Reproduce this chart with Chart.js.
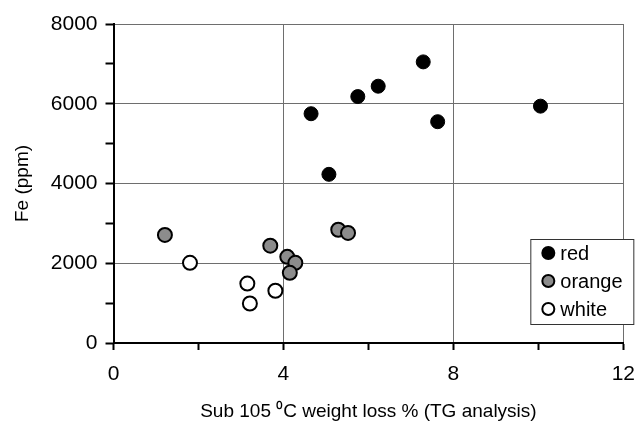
<!DOCTYPE html>
<html>
<head>
<meta charset="utf-8">
<script src="https://cdn.jsdelivr.net/npm/chart.js@4/dist/chart.umd.min.js"></script>
<style>
  html, body { margin: 0; background: #fff; overflow: hidden; }
  #wrap { width: 647px; height: 423px; }
</style>
</head>
<body>
<div id="wrap"><canvas id="feChart"></canvas></div>
<script>
// Sub-105 °C weight loss (%) vs Fe (ppm), grouped by sample colour
const redLoss = [4.65, 5.07, 5.75, 6.23, 7.29, 7.63, 10.05];
const redFe = [5750, 4230, 6180, 6440, 7050, 5550, 5940];

const orangeLoss = [1.21, 3.69, 4.09, 4.28, 4.15, 5.29, 5.52];
const orangeFe = [2710, 2440, 2160, 2010, 1760, 2840, 2760];

const whiteLoss = [1.80, 3.15, 3.21, 3.81];
const whiteFe = [2010, 1490, 990, 1310];

const groupNames = ['red', 'orange', 'white'];
const xMajorTicks = [0, 4, 8, 12];
const yMajorTicks = [0, 2000, 4000, 6000, 8000];

const FONT = "'Liberation Sans', Arial, sans-serif";

function toPoints(xs, ys) {
  return xs.map((x, i) => ({ x: x, y: ys[i] }));
}

const fills = ['#000000', '#8c8c8c', '#ffffff'];
const series = [toPoints(redLoss, redFe), toPoints(orangeLoss, orangeFe), toPoints(whiteLoss, whiteFe)];

const datasets = groupNames.map((name, i) => ({
  label: name,
  data: series[i],
  backgroundColor: fills[i],
  borderColor: '#000',
  borderWidth: i === 0 ? 1 : 2,
  pointRadius: 7,
  pointHoverRadius: 7
}));

// boxed legend drawn inside the lower right of the plot
const boxLegend = {
  id: 'boxLegend',
  afterDraw(chart) {
    const { ctx, chartArea } = chart;
    const left = chartArea.right - 93;
    const top = chartArea.bottom - 104;
    const w = 104, h = 86;
    ctx.save();
    ctx.fillStyle = '#fff';
    ctx.fillRect(left, top, w, h);
    ctx.strokeStyle = '#333';
    ctx.lineWidth = 1;
    ctx.strokeRect(left + 0.5, top + 0.5, w - 1, h - 1);
    ctx.font = '20px ' + FONT;
    ctx.textBaseline = 'middle';
    chart.data.datasets.forEach((ds, i) => {
      const cy = top + 14 + i * 28;
      ctx.beginPath();
      ctx.arc(left + 18, cy, 6, 0, Math.PI * 2);
      ctx.fillStyle = ds.backgroundColor;
      ctx.fill();
      ctx.lineWidth = 2;
      ctx.strokeStyle = '#000';
      ctx.stroke();
      ctx.fillStyle = '#000';
      ctx.fillText(ds.label, left + 30, cy + 1);
    });
    ctx.restore();
  }
};

new Chart(document.getElementById('feChart'), {
  type: 'scatter',
  data: { datasets: datasets },
  plugins: [boxLegend],
  options: {
    responsive: true,
    maintainAspectRatio: false,
    animation: false,
    layout: { padding: { top: 24, right: 0, left: 11, bottom: 0 } },
    plugins: {
      legend: { display: false },
      tooltip: { enabled: false }
    },
    scales: {
      x: {
        type: 'linear',
        min: 0,
        max: 12,
        ticks: {
          stepSize: 2,
          color: '#000',
          font: { family: FONT, size: 21 },
          padding: 12,
          maxRotation: 0,
          callback: v => xMajorTicks.includes(v) ? v : ''
        },
        grid: {
          color: ctx => (ctx.tick && xMajorTicks.includes(ctx.tick.value)) ? '#6e6e6e' : 'rgba(0,0,0,0)',
          tickColor: '#000',
          tickLength: 7,
          tickWidth: 2,
          lineWidth: 1
        },
        border: { color: '#000', width: 2 },
        title: {
          display: true,
          text: 'Sub 105 \u2070C weight loss % (TG analysis)',
          color: '#000',
          font: { family: FONT, size: 19 },
          padding: { top: 1, bottom: 0 }
        }
      },
      y: {
        type: 'linear',
        min: 0,
        max: 8000,
        ticks: {
          stepSize: 1000,
          color: '#000',
          font: { family: FONT, size: 21 },
          padding: 8,
          callback: v => yMajorTicks.includes(v) ? v : ''
        },
        grid: {
          color: ctx => (ctx.tick && yMajorTicks.includes(ctx.tick.value)) ? '#6e6e6e' : 'rgba(0,0,0,0)',
          tickColor: '#000',
          tickLength: 8,
          tickWidth: 2,
          lineWidth: 1
        },
        border: { color: '#000', width: 2 },
        title: {
          display: true,
          text: 'Fe (ppm)',
          color: '#000',
          font: { family: FONT, size: 19 },
          padding: { top: 0, bottom: 9 }
        }
      }
    }
  }
});
</script>
</body>
</html>
